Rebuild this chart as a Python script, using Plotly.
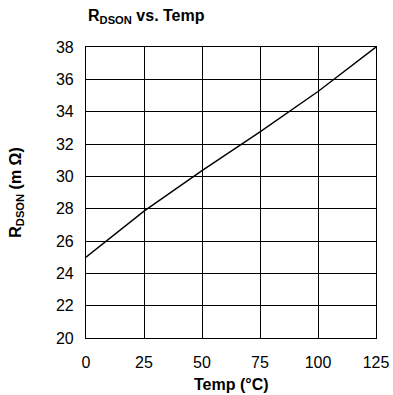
import plotly.graph_objects as go

# On-resistance versus junction temperature
temp_c = [0, 25, 50, 75, 100, 125]
rdson_mohm = [25.0, 27.85, 30.35, 32.75, 35.25, 38.0]

x_ticks = [0, 25, 50, 75, 100, 125]
y_ticks = [20, 22, 24, 26, 28, 30, 32, 34, 36, 38]

FONT = "Liberation Sans Narrow, Arial Narrow, Liberation Sans, Arial, sans-serif"

fig = go.Figure()
fig.add_trace(go.Scatter(
    x=temp_c, y=rdson_mohm, mode="lines",
    line=dict(color="black", width=1.4), showlegend=False,
))

axis_common = dict(
    showgrid=True, gridcolor="black", gridwidth=1,
    showline=True, linecolor="black", linewidth=1.2, mirror=True,
    ticks="", zeroline=False, automargin=False,
    tickfont=dict(family=FONT, size=16, color="black"),
)

fig.update_xaxes(range=[0, 125], tickvals=x_ticks, ticklabelstandoff=10, **axis_common)
fig.update_yaxes(
    range=[20, 38], tickvals=y_ticks, ticklabelstandoff=8,
    title=dict(text="<b>R<sub>DSON</sub> (m Ω)</b>", font=dict(family=FONT, size=16, color="black"), standoff=30),
    **axis_common,
)

# Axis caption below the temperature ticks
fig.add_annotation(
    text="<b>Temp (°C)</b>",
    xref="paper", yref="paper", x=0.5, y=0, xanchor="center", yanchor="middle",
    yshift=-46, showarrow=False,
    font=dict(family=FONT, size=16, color="black"),
)

fig.add_annotation(
    text="<b>R<sub>DSON</sub> vs. Temp</b>",
    xref="paper", yref="paper", x=0, y=1, xanchor="left", yanchor="bottom",
    yshift=19, showarrow=False,
    font=dict(family=FONT, size=16, color="black"),
)

fig.update_layout(
    width=393, height=395,
    margin=dict(l=86, r=17, t=47, b=57),
    paper_bgcolor="white", plot_bgcolor="white",
)

fig.write_html("out.html")
